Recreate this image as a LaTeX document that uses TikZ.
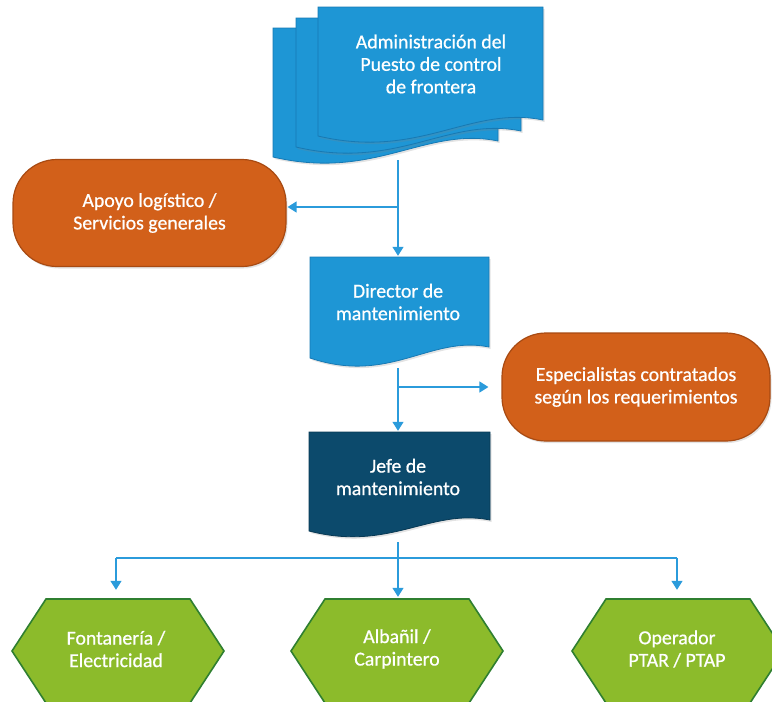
\documentclass[tikz,border=0pt]{standalone}
\usepackage{fontspec}
\setmainfont{Carlito}
\newfontfamily\lblfont{Carlito}[FakeBold=0.7]
\usetikzlibrary{arrows.meta,shadows}
\definecolor{docblue}{HTML}{1E96D5}
\definecolor{docedge}{HTML}{1779B3}
\definecolor{deepblue}{HTML}{0C4A6C}
\definecolor{deepedge}{HTML}{083954}
\definecolor{rust}{HTML}{D2601A}
\definecolor{rustedge}{HTML}{A84A12}
\definecolor{leaf}{HTML}{8CBB2B}
\definecolor{leafedge}{HTML}{2F7F30}
\definecolor{wire}{HTML}{2B9BDB}
\begin{document}
\begin{tikzpicture}[x=1pt,y=-1pt,
  txt/.style={text=white,font=\lblfont\fontsize{19.8}{22.5}\selectfont,align=center,inner sep=0pt},
  soft/.style={drop shadow={opacity=0.22,shadow xshift=1.5pt,shadow yshift=-2pt}},
  page/.style={fill=docblue,draw=docedge,line width=0.8pt,soft},
  darkpage/.style={fill=deepblue,draw=deepedge,line width=0.8pt,soft},
  pill/.style={txt,fill=rust,draw=rustedge,line width=1.2pt,rounded corners=44pt,soft},
  hexa/.style={fill=leaf,draw=leafedge,line width=1.6pt},
  line/.style={draw=wire,line width=1.4pt},
  conn/.style={line,-{Triangle[width=11pt,length=9pt]}}]
\useasboundingbox (0,0) rectangle (772,702);
\clip (0,0) rectangle (772,702);

% stacked pages of the top document
\foreach \dx/\dy in {-45/21,-22/11,0/0}
  \path[page,shift={(\dx,\dy)}] (318,7) -- (543,7) -- (543,120)
    .. controls (470,105) and (420,160) .. (318,136) -- cycle;
\node[txt] (adm) at (431,64) {Administración del\\Puesto de control\\de frontera};
\coordinate (admbot) at (398,160);

% orange pill on the left
\node[pill,minimum width=273pt,minimum height=107pt] (apoyo) at (149.5,213)
  {Apoyo logístico /\\Servicios generales};

% director document
\path[page] (310,257) -- (489,257) -- (489,347)
  .. controls (430,335) and (390,385) .. (310,358) -- cycle;
\node[txt,minimum width=179pt,minimum height=90pt] (dir) at (398,302)
  {Director de\\mantenimiento};
\coordinate (dirbot) at (398,368);

% orange pill on the right
\node[pill,minimum width=268pt,minimum height=108pt] (esp) at (636,387)
  {Especialistas contratados\\según los requerimientos};

% head of maintenance document
\path[darkpage] (309,432) -- (490,432) -- (490,520)
  .. controls (430,508) and (390,552) .. (309,531) -- cycle;
\node[txt,minimum width=181pt,minimum height=88pt] (jefe) at (398,477)
  {Jefe de\\mantenimiento};
\coordinate (jefebot) at (398,542);

% trades
\foreach \cx in {118,397,678}
  \path[hexa,shift={(\cx,651)}] (-106,0) -- (-72,-52) -- (72,-52) -- (106,0)
    -- (72,52) -- (-72,52) -- cycle;
\node[txt,minimum width=212pt,minimum height=104pt] (h1) at (116,649) {Fontanería /\\Electricidad};
\node[txt,minimum width=212pt,minimum height=104pt] (h2) at (397,649) {Albañil /\\Carpintero};
\node[txt,minimum width=212pt,minimum height=104pt] (h3) at (677,649) {Operador\\PTAR / PTAP};

% connectors
\coordinate (j1) at (398,207);
\coordinate (j2) at (398,387);
\coordinate (j3) at (398,558);
\draw[conn,shorten >=1pt] (admbot) -- (dir.north);
\draw[conn,shorten >=1pt] (j1) -- (j1 -| apoyo.east);
\draw[conn,shorten >=2pt] (dirbot) -- (dirbot |- jefe.north);
\draw[conn,shorten >=13pt] (j2) -- (j2 -| esp.west);
\draw[conn] (jefebot) -- (jefebot |- h2.north);
\draw[line] (j3 -| h1) -- (j3 -| h3);
\draw[conn,shorten >=7pt] (j3 -| h1) -- (h1.north);
\draw[conn,shorten >=7pt] (j3 -| h3) -- (h3.north);
\end{tikzpicture}
\end{document}
